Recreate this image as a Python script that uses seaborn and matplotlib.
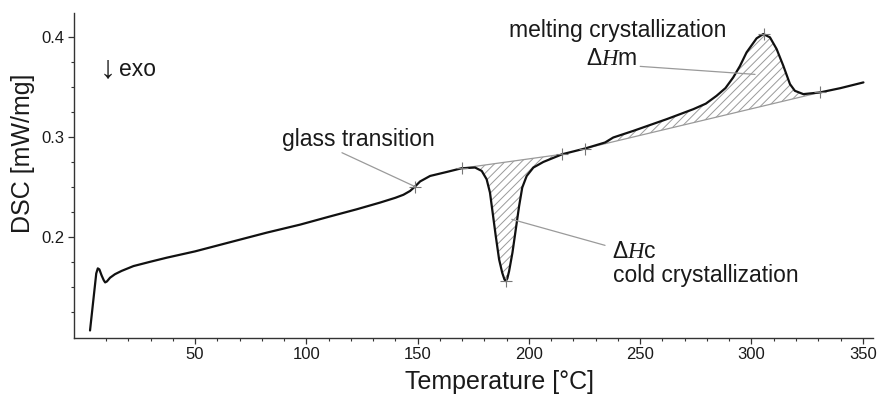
import numpy as np
import pandas as pd
import matplotlib
matplotlib.use("Agg")
import matplotlib.pyplot as plt
from matplotlib.ticker import FixedLocator
import seaborn as sns

# ---------------- data ----------------
temperature = [2.8, 5.6, 6.3, 7.0, 8.0, 9.0, 9.6, 10.4, 11.8, 14.0, 17.0, 22.3, 30.0,
               37.3, 50.0, 67.2, 82.2, 97.2, 110.0, 122.6, 133.1, 140.0, 143.6, 146.6,
               148.8, 151.1, 155.6, 163.1, 169.8, 175.8, 178.8, 181.0, 182.5, 183.7,
               185.1, 186.6, 188.0, 189.0, 189.6, 190.3, 191.1, 192.6, 194.1, 195.6,
               197.0, 199.0, 202.0, 206.5, 215.0, 225.2, 234.2, 237.9, 246.9, 261.9,
               273.9, 279.5, 284.3, 288.3, 291.8, 294.8, 297.8, 302.3, 305.3, 308.3,
               311.3, 314.3, 317.3, 319.5, 323.3, 330.8, 340.0, 350.3]
dsc = [0.107, 0.164, 0.169, 0.168, 0.162, 0.157, 0.155, 0.156, 0.1597, 0.1632, 0.1665,
       0.1713, 0.1757, 0.1797, 0.186, 0.196, 0.2047, 0.2127, 0.2205, 0.228, 0.2347,
       0.2395, 0.2425, 0.2463, 0.2507, 0.2558, 0.2613, 0.2653, 0.2690, 0.2697, 0.2663,
       0.258, 0.2447, 0.2247, 0.2013, 0.178, 0.1647, 0.158, 0.1563, 0.159, 0.1663,
       0.1847, 0.208, 0.2313, 0.2497, 0.2613, 0.2697, 0.2753, 0.283, 0.2887, 0.2947,
       0.2997, 0.3063, 0.318, 0.328, 0.3335, 0.3413, 0.349, 0.3597, 0.371, 0.3847,
       0.3987, 0.403, 0.3997, 0.388, 0.3713, 0.353, 0.3463, 0.343, 0.3447, 0.349, 0.3547]

marker_t = [148.8, 169.8, 189.6, 215.0, 225.2, 305.5, 330.8]
marker_dsc = [0.2507, 0.269, 0.1563, 0.283, 0.2887, 0.4035, 0.3447]

cold_base_t = [169.8, 215.0]
cold_base_dsc = [0.269, 0.283]
melt_base_t = [225.2, 330.8]
melt_base_dsc = [0.2887, 0.3447]

x_major = [50, 100, 150, 200, 250, 300, 350]
x_minor = list(range(10, 351, 10))
y_major = [0.2, 0.3, 0.4]
y_minor = [0.125, 0.15, 0.175, 0.225, 0.25, 0.275, 0.325, 0.35, 0.375]

# ---------------- style ----------------
sns.set_theme(style="ticks")
plt.rcParams["font.family"] = ["Liberation Sans", "DejaVu Sans"]
plt.rcParams["mathtext.fontset"] = "custom"
plt.rcParams["mathtext.rm"] = "Liberation Sans"
plt.rcParams["mathtext.it"] = "Liberation Serif:italic"
plt.rcParams["hatch.linewidth"] = 0.7

TXT = "#1a1a1a"
GREY = "#9a9a9a"

fig = plt.figure(figsize=(8.79, 3.94), dpi=100)
ax = fig.add_axes([74 / 879, 1 - 337.5 / 394, (873 - 74) / 879, (337.5 - 13) / 394])

df = pd.DataFrame({"T": temperature, "DSC": dsc})
T = np.array(temperature)
D = np.array(dsc)

# hatched areas
m = (T >= cold_base_t[0]) & (T <= cold_base_t[1])
bc = np.interp(T[m], cold_base_t, cold_base_dsc)
ax.fill_between(T[m], D[m], bc, where=D[m] <= bc + 1e-9, facecolor="none",
                edgecolor=GREY, hatch="////", linewidth=0, interpolate=True)
m2 = (T >= melt_base_t[0]) & (T <= melt_base_t[1])
bm = np.interp(T[m2], melt_base_t, melt_base_dsc)
ax.fill_between(T[m2], bm, D[m2], where=D[m2] >= bm - 1e-9, facecolor="none",
                edgecolor=GREY, hatch="////", linewidth=0, interpolate=True)

# baselines
ax.plot(cold_base_t, cold_base_dsc, color=GREY, lw=0.9)
ax.plot(melt_base_t, melt_base_dsc, color=GREY, lw=0.9)

# main curve
sns.lineplot(data=df, x="T", y="DSC", sort=False, estimator=None, color="#111111",
             lw=1.6, ax=ax)

# markers
ax.plot(marker_t, marker_dsc, ls="none", marker="+", ms=8, mew=0.8, color="#777777")

# annotations
fs = 16.5
ax.text(123.5, 0.291, "glass transition", ha="center", va="baseline", fontsize=fs, color=TXT)
ax.plot([116, 148.8], [0.2845, 0.2507], color=GREY, lw=0.9)

ax.text(240.1, 0.3997, "melting crystallization", ha="center", va="baseline", fontsize=fs, color=TXT)
ax.text(237.4, 0.3717, r"$\Delta H$m", ha="center", va="baseline", fontsize=fs, color=TXT)
ax.plot([250.0, 301.6], [0.3707, 0.3627], color=GREY, lw=0.9)

ax.text(237.2, 0.179, r"$\Delta H$c", ha="left", va="baseline", fontsize=fs, color=TXT)
ax.text(237.8, 0.155, "cold crystallization", ha="left", va="baseline", fontsize=fs, color=TXT)
ax.plot([234.2, 192.3], [0.192, 0.218], color=GREY, lw=0.9)

ax.text(7.3, 0.3605, "\u2193", ha="left", va="baseline", fontsize=23, color=TXT,
        family=["Liberation Sans", "DejaVu Sans"])
ax.text(15.8, 0.361, "exo", ha="left", va="baseline", fontsize=fs, color=TXT)

# axes
ax.set_xlim(-4.4, 354.6)
ax.set_ylim(0.1, 0.424)
ax.xaxis.set_major_locator(FixedLocator(x_major))
ax.xaxis.set_minor_locator(FixedLocator(x_minor))
ax.yaxis.set_major_locator(FixedLocator(y_major))
ax.yaxis.set_minor_locator(FixedLocator(y_minor))
ax.set_xticklabels([str(v) for v in x_major])
ax.set_yticklabels([str(v) for v in y_major])
ax.tick_params(which="major", length=4, width=0.9, direction="out", labelsize=12,
               colors="#333333", labelcolor=TXT, pad=3)
ax.tick_params(which="minor", length=2.5, width=0.8, direction="out", colors="#333333")
sns.despine(ax=ax)
for s in ("left", "bottom"):
    ax.spines[s].set_color("#333333")
    ax.spines[s].set_linewidth(1.0)

ax.set_xlabel("Temperature [\u00b0C]", fontsize=18, color=TXT)
ax.set_ylabel("DSC [mW/mg]", fontsize=18, color=TXT)
ax.xaxis.set_label_coords(0.532, -0.10)
ax.yaxis.set_label_coords(-0.049, 0.569)

fig.savefig("out.png", dpi=100)
